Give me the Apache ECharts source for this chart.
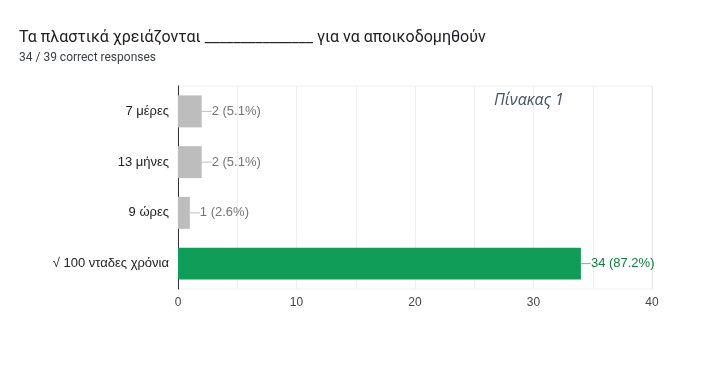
<!DOCTYPE html>
<html><head><meta charset="utf-8">
<script src="https://cdn.jsdelivr.net/npm/echarts@6/dist/echarts.min.js"></script>
<style>html,body{margin:0;padding:0;background:#fff}#c{width:717px;height:379px}</style>
</head><body><div id="c"></div>
<script>
const categories = ['7 μέρες', '13 μήνες', '9 ώρες', '√ 100 νταδες χρόνια'];
const counts = [2, 2, 1, 34];
const percents = ['5.1%', '5.1%', '2.6%', '87.2%'];
const correct = [false, false, false, true];
const tickValues = [0, 10, 20, 30, 40];

const chart = echarts.init(document.getElementById('c'));
const data = counts.map((v, i) => ({
  value: v,
  itemStyle: { color: correct[i] ? '#0f9d58' : '#bdbdbd' },
  label: {
    formatter: '{l|}{t|' + v + ' (' + percents[i] + ')}',
    rich: {
      l: { width: 10, height: 1, backgroundColor: correct[i] ? '#9e9e9e' : '#bdbdbd' },
      t: { color: correct[i] ? '#0b8043' : '#757575', fontSize: 13, fontFamily: 'Liberation Sans' }
    }
  }
}));
chart.setOption({
  animation: false,
  backgroundColor: '#fff',
  title: [
    { text: 'Τα πλαστικά χρειάζονται _______________ για να αποικοδομηθούν', left: 14, top: 25, padding: [5, 5],
      textStyle: { fontFamily: 'Roboto', fontSize: 16, fontWeight: 'normal', color: '#202124' } },
    { text: '34 / 39 correct responses', left: 14, top: 47,
      textStyle: { fontFamily: 'Roboto', fontSize: 12, fontWeight: 'normal', color: '#3c4043' } },
    { text: 'Πίνακας 1', left: 489, top: 87,
      textStyle: { fontFamily: 'Open Sans', fontStyle: 'italic', fontSize: 16, fontWeight: 'normal', color: '#44546a' } }
  ],
  grid: { left: 178, right: 65, top: 86, bottom: 90, containLabel: false, show: true, borderColor: '#eeeeee', borderWidth: 1 },
  xAxis: {
    type: 'value', min: 0, max: 40, interval: 5,
    axisLine: { show: false }, axisTick: { show: false },
    splitLine: { lineStyle: { color: '#eeeeee' } },
    axisLabel: { color: '#444', fontSize: 12, fontFamily: 'Liberation Sans', margin: 8,
      formatter: v => tickValues.includes(v) ? String(v) : '' }
  },
  yAxis: {
    type: 'category', data: categories, inverse: true,
    axisLine: { show: true, lineStyle: { color: '#333', width: 1 } },
    axisTick: { show: false },
    axisLabel: { color: '#222', fontSize: 13, fontFamily: 'Liberation Sans', margin: 9 }
  },
  series: [{
    type: 'bar', data: data, barWidth: '63%',
    label: { show: true, position: 'right', distance: 0 }
  }]
});
</script></body></html>
